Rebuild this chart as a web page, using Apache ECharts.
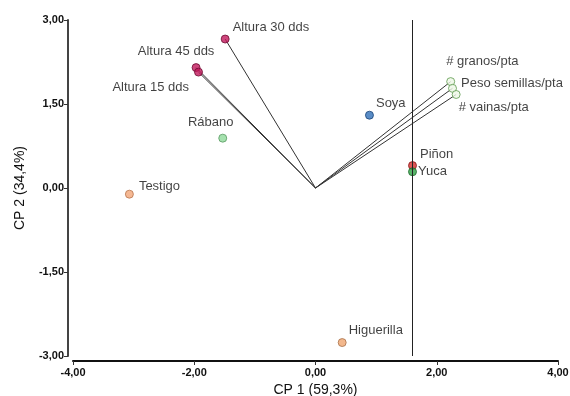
<!DOCTYPE html>
<html>
<head>
<meta charset="utf-8">
<script src="https://cdn.jsdelivr.net/npm/echarts@6/dist/echarts.min.js"></script>
<style>
html,body{margin:0;padding:0;background:#fff;}
#chart{width:570px;height:396px;}
</style>
</head>
<body>
<div id="chart"></div>
<script>
// ---- data ----
var objNames = ['Testigo', 'Rábano', 'Soya', 'Piñon', 'Yuca', 'Higuerilla'];
var objX = [-3.07, -1.53, 0.89, 1.60, 1.60, 0.44];
var objY = [-0.11, 0.89, 1.30, 0.40, 0.29, -2.76];

var varNames = ['Altura 30 dds', 'Altura 45 dds', 'Altura 15 dds', '# granos/pta', 'Peso semillas/pta', '# vainas/pta'];
var varX = [-1.49, -1.97, -1.93, 2.23, 2.26, 2.32];
var varY = [2.66, 2.15, 2.07, 1.90, 1.78, 1.67];

var refLineX = 1.60;
var xTicks = { min: -4, max: 4, interval: 2 };
var yTicks = { min: -3, max: 3, interval: 1.5 };
var xTitle = 'CP 1 (59,3%)';
var yTitle = 'CP 2 (34,4%)';

// ---- styles (not data) ----
var pointStyle = {
  'Testigo':          { fill: '#f2a678', border: '#b8764f', pos: 'right', off: [0, -8] },
  'Rábano':           { fill: '#8fd99a', border: '#5a9a63', pos: 'top',   off: [-12, 0] },
  'Soya':             { fill: '#2f6fb8', border: '#1c4578', pos: 'right', off: [-3, -12] },
  'Piñon':            { fill: '#d42a2a', border: '#8a1a1a', pos: 'right', off: [-2, -11] },
  'Yuca':             { fill: '#2ea043', border: '#1d6a2b', pos: 'right', off: [-4, 0] },
  'Higuerilla':       { fill: '#f0a670', border: '#a8704a', pos: 'right', off: [-3, -12] },
  'Altura 30 dds':    { fill: '#c2185b', border: '#6e0d33', pos: 'right', off: [-2, -12] },
  'Altura 45 dds':    { fill: '#c2185b', border: '#6e0d33', pos: 'top',   off: [-20, 0] },
  'Altura 15 dds':    { fill: '#c2185b', border: '#6e0d33', pos: 'left',  off: [0, 15] },
  '# granos/pta':     { fill: '#eef8e6', border: '#5e9a4e', pos: 'right', off: [-14, -20] },
  'Peso semillas/pta':{ fill: '#eef8e6', border: '#5e9a4e', pos: 'right', off: [-1, -5] },
  '# vainas/pta':     { fill: '#eef8e6', border: '#5e9a4e', pos: 'right', off: [-7, 13] }
};
var FONT = 'Liberation Sans, Arial, sans-serif';

function fmt(v) { return v.toFixed(2).replace('.', ','); }

function makePoint(name, x, y) {
  var s = pointStyle[name];
  return {
    name: name,
    value: [x, y],
    itemStyle: { color: s.fill, borderColor: s.border, borderWidth: 1 },
    label: {
      show: true, position: s.pos, offset: s.off, distance: 5,
      formatter: name, color: '#111', fontSize: 13, fontFamily: FONT
    }
  };
}

var series = [];
// vectors from origin
varNames.forEach(function (n, i) {
  series.push({
    type: 'line',
    data: [[0, 0], [varX[i], varY[i]]],
    symbol: 'none',
    silent: true,
    lineStyle: { color: '#333', width: 1 },
    z: 1
  });
});

var pts = [];
objNames.forEach(function (n, i) { pts.push(makePoint(n, objX[i], objY[i])); });
varNames.forEach(function (n, i) { pts.push(makePoint(n, varX[i], varY[i])); });

series.push({
  type: 'scatter',
  symbolSize: 8,
  data: pts,
  z: 3,
  markLine: {
    silent: true,
    symbol: 'none',
    label: { show: false },
    lineStyle: { color: '#222', width: 1, type: 'solid' },
    data: [{ xAxis: refLineX }]
  }
});

var chart = echarts.init(document.getElementById('chart'), null, { renderer: 'canvas' });
chart.setOption({
  animation: false,
  backgroundColor: '#fff',
  grid: { left: 73, right: 12, top: 20, bottom: 40, containLabel: false, outerBoundsMode: 'none' },
  xAxis: {
    type: 'value',
    min: xTicks.min, max: xTicks.max, interval: xTicks.interval,
    offset: 5,
    name: xTitle,
    nameLocation: 'middle',
    nameGap: 19,
    nameTextStyle: { fontSize: 14, color: '#111', fontFamily: FONT },
    axisLine: { show: true, onZero: false, lineStyle: { color: '#111', width: 2 } },
    axisTick: { show: true, length: 4, lineStyle: { color: '#333', width: 1 } },
    axisLabel: { formatter: fmt, fontSize: 11, fontWeight: 'bold', color: '#111', margin: 6, fontFamily: FONT },
    splitLine: { show: false }
  },
  yAxis: {
    type: 'value',
    min: yTicks.min, max: yTicks.max, interval: yTicks.interval,
    offset: 5,
    name: yTitle,
    nameLocation: 'middle',
    nameGap: 41,
    nameTextStyle: { fontSize: 14, color: '#111', fontFamily: FONT },
    axisLine: { show: true, onZero: false, lineStyle: { color: '#444', width: 2 } },
    axisTick: { show: true, length: 4, lineStyle: { color: '#333', width: 1 } },
    axisLabel: { formatter: fmt, fontSize: 11, fontWeight: 'bold', color: '#111', margin: 4, fontFamily: FONT },
    splitLine: { show: false }
  },
  series: series
});
</script>
</body>
</html>
